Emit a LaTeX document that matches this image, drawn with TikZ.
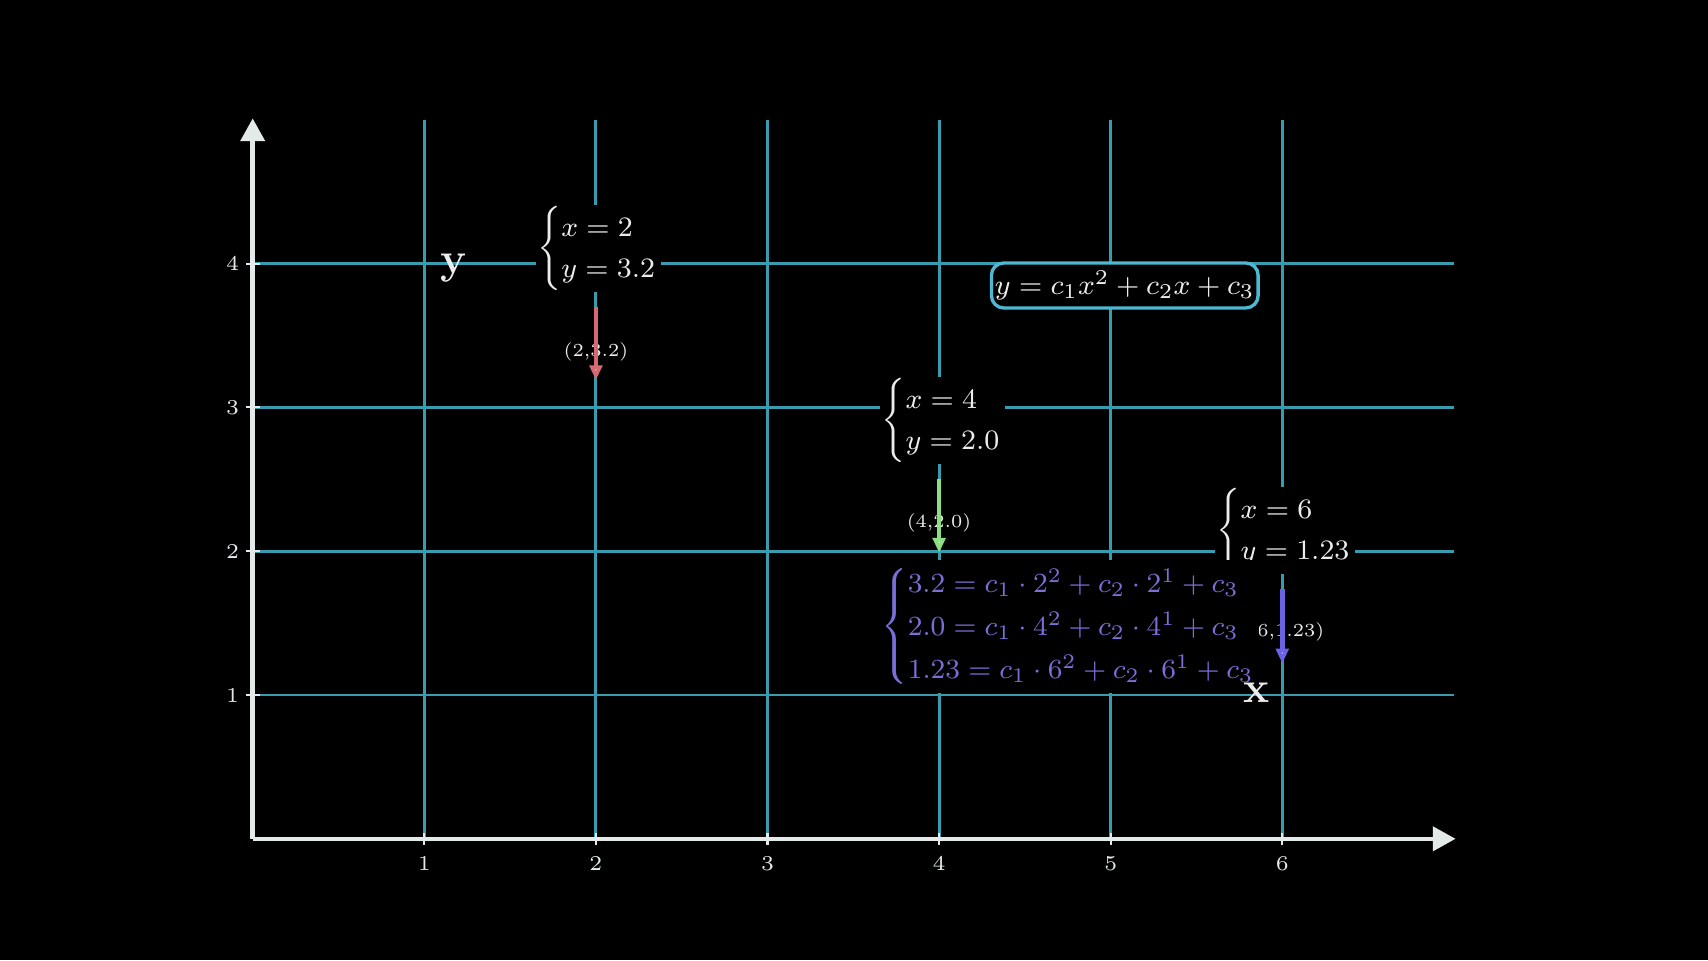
\RequirePackage{fix-cm}
\documentclass[tikz,border=0pt]{standalone}
\usepackage{amsmath}
\usetikzlibrary{arrows.meta}
\definecolor{gridc}{RGB}{56,156,176}
\definecolor{axisc}{RGB}{228,234,234}
\definecolor{boxc}{RGB}{78,184,210}
\definecolor{redc}{RGB}{214,104,116}
\definecolor{greenc}{RGB}{140,222,130}
\definecolor{bluec}{RGB}{108,98,228}
\definecolor{purplec}{RGB}{122,110,216}
\definecolor{textc}{RGB}{236,236,236}
\newcommand{\lbrcases}[1]{\left\{\renewcommand{\arraystretch}{1.2}\begin{array}{@{}l@{}}#1\end{array}\right.}
\tikzset{
  gridline/.style={gridc,line width=0.8pt},
  axisline/.style={axisc,line width=1.3pt,-{Triangle[width=6.8pt,length=6.5pt]}},
  tickline/.style={axisc,line width=0.6pt},
  ticklabel/.style={text=axisc,font=\fontsize{6}{7}\selectfont,inner sep=0pt},
  biglabel/.style={text=textc,font=\fontsize{12.5}{14}\selectfont\bfseries,inner sep=0pt},
  xyblock/.style={text=textc,fill=black,inner sep=0.4pt,anchor=west,font=\fontsize{8}{9.8}\selectfont},
  sysblock/.style={text=purplec,fill=black,inner xsep=0.3pt,inner ysep=0.6pt,anchor=west,scale=0.985,font=\fontsize{8}{10.35}\selectfont},
  eqbox/.style={text=textc,draw=boxc,line width=0.95pt,fill=black,rounded corners=3.5pt,
    inner xsep=1pt,inner ysep=1.5pt,minimum width=74.7pt,minimum height=12.8pt,font=\fontsize{8}{9.6}\selectfont},
  ptlabel/.style={text=textc,font=\fontsize{5.7}{6.8}\selectfont,scale=0.92,inner sep=0pt},
  datarrow/.style={#1,line width=1.25pt,-{Triangle[width=3.6pt,length=4.2pt,fill=#1!45!white]}}
}
\begin{document}
\begin{tikzpicture}[x=1.716cm,y=1.438cm]
\useasboundingbox[fill=black] (-1.4726,-0.8428) rectangle (8.4808,5.8331);
% grid
\foreach \i in {1,...,6} \draw[gridline] (\i,0) -- (\i,5);
\foreach \j in {1,...,4} \draw[gridline] (0,\j) -- (7,\j);
% axes
\coordinate (O) at (0,0);
\coordinate (xend) at (7.01,0);
\coordinate (yend) at (0,5.01);
\draw[axisline] (O) -- (xend);
\draw[axisline] (O) -- (yend);
\foreach \i in {1,...,6} {
  \draw[tickline] (\i,-0.04) -- (\i,0.04);
  \node[ticklabel] (xt\i) at (\i,-0.174) {\i};
}
\foreach \j in {1,...,4} {
  \draw[tickline] (-0.04,\j) -- (0.04,\j);
  \node[ticklabel] (yt\j) at (-0.118,\j) {\j};
}
% axis names
\node[biglabel] (ylab) at (1.169,3.967) {y};
% point blocks
\node[xyblock] (p1) at (1.646,4.105) {$\lbrcases{x=2\\ y=3.2}$};
\node[xyblock] (p2) at (3.652,2.907) {$\lbrcases{x=4\\ y=2.0}$};
\node[xyblock] (p3) at (5.605,2.142) {$\lbrcases{x=6\\ y=1.23}$};
% model box
\node[eqbox] (model) at (5.082,3.848) {$y=c_1x^2+c_2x+c_3$};
% data arrows
\coordinate (r0) at (2,3.70);
\coordinate (r1) at (2,3.19);
\node[ptlabel] (rl) at (2,3.387) {(2,3.2)};
\draw[datarrow=redc] (r0) -- (r1);
\coordinate (g0) at (4,2.50);
\coordinate (g1) at (4,1.99);
\node[ptlabel] (gl) at (4,2.194) {(4,2.0)};
\draw[datarrow=greenc] (g0) -- (g1);
\coordinate (b0) at (6,1.74);
\coordinate (b1) at (6,1.22);
\node[ptlabel] (bl) at (6.024,1.44) {(6,1.23)};
\draw[datarrow=bluec] (b0) -- (b1);
% system of equations
\node[sysblock] (sys) at (3.655,1.476) {$\lbrcases{3.2=c_1\cdot 2^2+c_2\cdot 2^1+c_3\\ 2.0=c_1\cdot 4^2+c_2\cdot 4^1+c_3\\ 1.23=c_1\cdot 6^2+c_2\cdot 6^1+c_3}$};
\node[biglabel] (xlab) at (5.85,1.014) {x};
\end{tikzpicture}
\end{document}
